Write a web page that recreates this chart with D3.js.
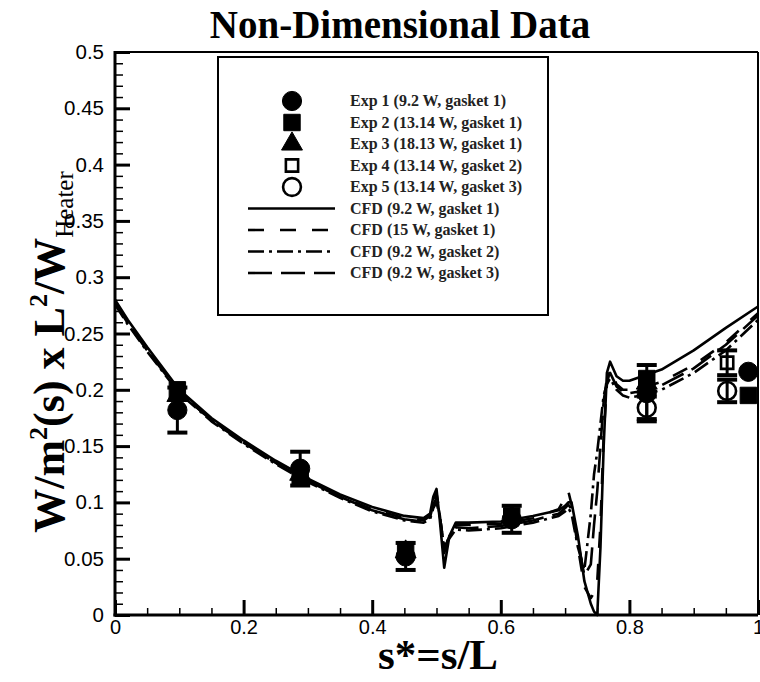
<!DOCTYPE html>
<html><head><meta charset="utf-8">
<script src="https://cdn.jsdelivr.net/npm/d3@7"></script>
<style>body{margin:0;background:#fff}svg{display:block}</style>
</head><body>
<svg id="c" width="760" height="682"></svg>
<script>
// ---------- data ----------
const xTicks = [0, 0.2, 0.4, 0.6, 0.8, 1];
const xTickLabels = ["0", "0.2", "0.4", "0.6", "0.8", "1"];
const yTicks = [0, 0.05, 0.1, 0.15, 0.2, 0.25, 0.3, 0.35, 0.4, 0.45, 0.5];
const yTickLabels = ["0", "0.05", "0.1", "0.15", "0.2", "0.25", "0.3", "0.35", "0.4", "0.45", "0.5"];

const sCFD = [0, 0.02, 0.05, 0.1, 0.15, 0.2, 0.25, 0.3, 0.35, 0.4, 0.45, 0.48, 0.49, 0.495, 0.5, 0.505, 0.512, 0.52, 0.53, 0.55, 0.6, 0.65, 0.69, 0.7, 0.705, 0.71, 0.72, 0.73, 0.74, 0.745, 0.75, 0.755, 0.76, 0.765, 0.77, 0.78, 0.79, 0.8, 0.82, 0.85, 0.9, 0.95, 1.0];
const cfd92g1 = [0.28, 0.262, 0.238, 0.200, 0.175, 0.155, 0.137, 0.121, 0.107, 0.096, 0.088, 0.086, 0.090, 0.105, 0.112, 0.085, 0.042, 0.070, 0.082, 0.082, 0.083, 0.088, 0.093, 0.097, 0.100, 0.100, 0.070, 0.030, 0.010, 0.003, 0.000, 0.060, 0.150, 0.215, 0.225, 0.212, 0.208, 0.208, 0.212, 0.218, 0.235, 0.255, 0.274];
const cfd15g1 = [0.278, 0.260, 0.236, 0.198, 0.173, 0.153, 0.135, 0.119, 0.105, 0.094, 0.086, 0.084, 0.088, 0.100, 0.108, 0.090, 0.055, 0.072, 0.080, 0.080, 0.081, 0.086, 0.094, 0.104, 0.110, 0.098, 0.060, 0.025, 0.015, 0.020, 0.030, 0.080, 0.160, 0.205, 0.218, 0.205, 0.200, 0.200, 0.202, 0.207, 0.222, 0.242, 0.268];
const cfd92g2 = [0.276, 0.258, 0.234, 0.197, 0.172, 0.152, 0.134, 0.118, 0.104, 0.092, 0.084, 0.082, 0.085, 0.095, 0.100, 0.088, 0.060, 0.068, 0.076, 0.075, 0.077, 0.082, 0.088, 0.092, 0.095, 0.090, 0.060, 0.040, 0.090, 0.125, 0.145, 0.170, 0.195, 0.205, 0.210, 0.200, 0.195, 0.193, 0.195, 0.200, 0.215, 0.235, 0.262];
const cfd92g3 = [0.277, 0.259, 0.235, 0.198, 0.173, 0.153, 0.135, 0.119, 0.105, 0.093, 0.085, 0.083, 0.087, 0.098, 0.104, 0.089, 0.058, 0.070, 0.078, 0.077, 0.079, 0.084, 0.090, 0.095, 0.098, 0.094, 0.065, 0.035, 0.045, 0.080, 0.110, 0.150, 0.190, 0.210, 0.215, 0.203, 0.198, 0.197, 0.199, 0.204, 0.219, 0.240, 0.266];

const exp1S = [0.097, 0.288, 0.452, 0.617, 0.827, 0.985];
const exp1V = [0.182, 0.130, 0.052, 0.085, 0.197, 0.216];
const exp1E = [0.020, 0.015, 0.012, 0.012, 0.025, 0];
const exp2S = [0.097, 0.288, 0.452, 0.617, 0.827, 0.985];
const exp2V = [0.200, 0.122, 0.058, 0.088, 0.210, 0.195];
const exp2E = [0, 0, 0, 0, 0, 0];
const exp3S = [0.097, 0.288, 0.452, 0.617, 0.827];
const exp3V = [0.195, 0.125, 0.056, 0.087, 0.206];
const exp3E = [0, 0, 0, 0, 0];
const exp4S = [0.952];
const exp4V = [0.224];
const exp4E = [0.011];
const exp5S = [0.827, 0.952];
const exp5V = [0.184, 0.199];
const exp5E = [0.010, 0.010];

const expLabels = ["Exp 1 (9.2 W, gasket 1)", "Exp 2 (13.14 W, gasket 1)", "Exp 3 (18.13 W, gasket 1)", "Exp 4 (13.14 W, gasket 2)", "Exp 5 (13.14 W, gasket 3)"];
const cfdLabels = ["CFD (9.2 W, gasket 1)", "CFD (15 W, gasket 1)", "CFD (9.2 W, gasket 2)", "CFD (9.2 W, gasket 3)"];

// ---------- drawing ----------
const svg = d3.select("#c");
const L = 115, R = 758, T = 52, B = 615;
const x = d3.scaleLinear().domain([0, 1]).range([L, R]);
const y = d3.scaleLinear().domain([0, 0.5]).range([B, T]);

const serif = "'Liberation Serif','Times New Roman',serif";
const sans = "'Liberation Sans',Arial,sans-serif";

// title
svg.append("text").attr("x", 400).attr("y", 38).attr("text-anchor", "middle")
  .attr("font-family", serif).attr("font-weight", "bold").attr("font-size", 39)
  .text("Non-Dimensional Data");

// minor ticks
const minorX = d3.range(0, 1.0001, 0.05).filter(v => Math.abs(v*5 - Math.round(v*5)) > 1e-6);
const minorY = d3.range(0, 0.5001, 0.01).filter(v => Math.abs(v*20 - Math.round(v*20)) > 1e-6);

const gx = svg.append("g").attr("transform", `translate(0,${B})`);
gx.call(d3.axisBottom(x).tickValues(minorX).tickSizeInner(-7).tickSizeOuter(0).tickFormat(""));
gx.selectAll("line").attr("stroke-width", 1.5);
const gx2 = svg.append("g").attr("transform", `translate(0,${B})`);
gx2.call(d3.axisBottom(x).tickValues(xTicks).tickSizeInner(-15).tickSizeOuter(0).tickPadding(5)
  .tickFormat((d, i) => xTickLabels[i]));
gx2.selectAll("line").attr("stroke-width", 3);
gx2.selectAll("text").attr("font-family", sans).attr("font-size", 20).attr("fill", "#000");

const gy = svg.append("g").attr("transform", `translate(${L},0)`);
gy.call(d3.axisLeft(y).tickValues(minorY).tickSizeInner(-8).tickSizeOuter(0).tickFormat(""));
gy.selectAll("line").attr("stroke-width", 1.5);
const gy2 = svg.append("g").attr("transform", `translate(${L},0)`);
gy2.call(d3.axisLeft(y).tickValues(yTicks).tickSizeInner(-15).tickSizeOuter(0).tickPadding(11)
  .tickFormat((d, i) => yTickLabels[i]));
gy2.selectAll("line").attr("stroke-width", 3);
gy2.selectAll("text").attr("font-family", sans).attr("font-size", 20.5).attr("fill", "#000");
svg.selectAll(".domain").remove();

// frame
svg.append("line").attr("x1", L).attr("x2", R).attr("y1", T).attr("y2", T).attr("stroke", "#000").attr("stroke-width", 2);
svg.append("line").attr("x1", R).attr("x2", R).attr("y1", T).attr("y2", B).attr("stroke", "#000").attr("stroke-width", 2);
svg.append("line").attr("x1", L).attr("x2", L).attr("y1", T - 1).attr("y2", B + 1.5).attr("stroke", "#000").attr("stroke-width", 3);
svg.append("line").attr("x1", L - 1.5).attr("x2", R).attr("y1", B).attr("y2", B).attr("stroke", "#000").attr("stroke-width", 3);

// axis titles
svg.append("text").attr("x", 438).attr("y", 669).attr("text-anchor", "middle")
  .attr("font-family", serif).attr("font-weight", "bold").attr("font-size", 43)
  .text("s*=s/L");

const yl = svg.append("text").attr("transform", "translate(64,352) rotate(-90)").attr("text-anchor", "middle")
  .attr("font-family", serif).attr("font-weight", "bold").attr("font-size", 44);
yl.append("tspan").text("W/m");
yl.append("tspan").attr("font-size", 26).attr("dy", -17).text("2");
yl.append("tspan").attr("dy", 17).text("(s) x L");
yl.append("tspan").attr("font-size", 26).attr("dy", -17).text("2");
yl.append("tspan").attr("dy", 17).text("/W");
yl.append("tspan").attr("font-size", 25).attr("font-weight", "normal").attr("dy", 9).text("Heater");

// CFD lines
const dashes = [null, "16,16", "16,5,3,5", "24,9"];
const cfdSeries = [cfd92g1, cfd15g1, cfd92g2, cfd92g3];
const line = d3.line().x(d => x(d[0])).y(d => y(d[1]));
const clipG = svg.append("g");
cfdSeries.forEach((vals, k) => {
  clipG.append("path").datum(sCFD.map((s, i) => [s, vals[i]]))
    .attr("d", line).attr("fill", "none").attr("stroke", "#000").attr("stroke-width", 2.6)
    .attr("stroke-dasharray", dashes[k]).attr("stroke-linejoin", "round");
});

// experiment markers
const sym = {
  circle: d3.symbol().type(d3.symbolCircle).size(290),
  square: d3.symbol().type(d3.symbolSquare).size(270),
  triangle: d3.symbol().type(d3.symbolTriangle).size(190),
  osquare: d3.symbol().type(d3.symbolSquare).size(150),
  ocircle: d3.symbol().type(d3.symbolCircle).size(250)
};
const exps = [
  {S: exp3S, V: exp3V, E: exp3E, m: "triangle", fill: true},
  {S: exp2S, V: exp2V, E: exp2E, m: "square", fill: true},
  {S: exp1S, V: exp1V, E: exp1E, m: "circle", fill: true},
  {S: exp4S, V: exp4V, E: exp4E, m: "osquare", fill: false},
  {S: exp5S, V: exp5V, E: exp5E, m: "ocircle", fill: false}
];
const gm = svg.append("g");
exps.forEach(e => {
  e.S.forEach((s, i) => {
    const cx = x(s), v = e.V[i], er = e.E[i];
    if (er > 0) {
      gm.append("line").attr("x1", cx).attr("x2", cx).attr("y1", y(v - er)).attr("y2", y(v + er)).attr("stroke", "#000").attr("stroke-width", 3);
      [v - er, v + er].forEach(vv => gm.append("line").attr("x1", cx - 10).attr("x2", cx + 10)
        .attr("y1", y(vv)).attr("y2", y(vv)).attr("stroke", "#000").attr("stroke-width", 4));
    }
    gm.append("path").attr("d", sym[e.m]()).attr("transform", `translate(${cx},${y(v)})`)
      .attr("fill", e.fill ? "#000" : "none").attr("stroke", "#000").attr("stroke-width", e.fill ? 1 : 2.6);
  });
});

// legend
const lg = svg.append("g");
lg.append("rect").attr("x", 218).attr("y", 57).attr("width", 330).attr("height", 258)
  .attr("fill", "#fff").attr("stroke", "#000").attr("stroke-width", 2);
const rowY = i => 101 + i * 21.5;
const legMarks = ["circle", "square", "triangle", "osquare", "ocircle"];
const legFill = [true, true, true, false, false];
expLabels.forEach((t, i) => {
  lg.append("path").attr("d", sym[legMarks[i]]()).attr("transform", `translate(292,${rowY(i)})`)
    .attr("fill", legFill[i] ? "#000" : "none").attr("stroke", "#000").attr("stroke-width", legFill[i] ? 1 : 2.6);
  lg.append("text").attr("x", 350).attr("y", rowY(i) + 5).attr("font-family", serif).attr("font-size", 16)
    .attr("font-weight", "bold").attr("fill", "#222").text(t);
});
cfdLabels.forEach((t, k) => {
  const i = k + 5;
  lg.append("line").attr("x1", 248).attr("x2", 335).attr("y1", rowY(i)).attr("y2", rowY(i))
    .attr("stroke", "#000").attr("stroke-width", 2.6).attr("stroke-dasharray", dashes[k]);
  lg.append("text").attr("x", 350).attr("y", rowY(i) + 5).attr("font-family", serif).attr("font-size", 16)
    .attr("font-weight", "bold").attr("fill", "#222").text(t);
});
</script>
</body></html>
